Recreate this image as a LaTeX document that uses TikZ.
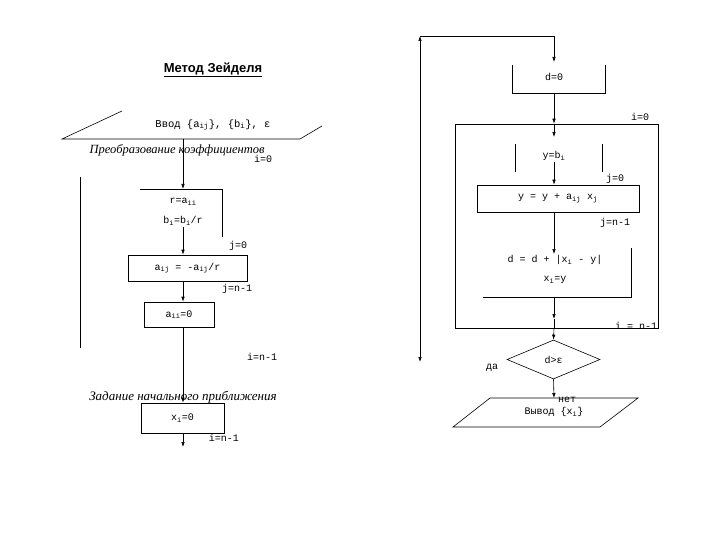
\documentclass[tikz,border=0pt]{standalone}
\usepackage{fontspec}
\setmainfont{Liberation Serif}
\newfontfamily\monofont{Liberation Mono}
\newfontfamily\headfont{Liberation Sans}
\usetikzlibrary{arrows.meta,shapes.geometric}
\newcommand{\ix}[1]{\textsubscript{#1}}

\begin{document}
\begin{tikzpicture}[x=1pt,y=-1pt,>={Latex[length=5pt,width=3.5pt]},line width=0.6pt,
  txt/.style={font=\monofont\fontsize{10}{11}\selectfont,inner sep=1pt},
  cmt/.style={font=\itshape\fontsize{13}{14}\selectfont,inner sep=0pt},
  box/.style={draw,txt,minimum height=26pt}]
\useasboundingbox (0,0) rectangle (720,540);
% title
\node[font=\headfont\bfseries\fontsize{13}{15}\selectfont] (title) at (213,70) {\underline{Метод Зейделя}};

% ---- left part: transformation of coefficients
% input
\draw (122,111) -- (62,139) -- (300,139) -- (322,126);
\node[txt,font=\monofont\fontsize{10.5}{11}\selectfont] (in) at (213,125) {Ввод \{a\ix{ij}\}, \{b\ix{i}\}, ε};
\coordinate (inb) at (183,139);
\node[cmt,font=\itshape\fontsize{12.5}{14}\selectfont] (conv) at (177,150) {Преобразование коэффициентов};
\node[txt] (i0) at (263,159) {i=0};
% outer loop line
\coordinate (iloopa) at (80,177);
\coordinate (iloopb) at (80,348);
\draw (iloopa) -- (iloopb);
% r, b (open box)
\draw (140,189) -- (222,189) -- (222,237);
\node[txt] (r) at (183,202) {r=a\ix{ii}};
\node[txt] (b) at (183,221) {b\ix{i}=b\ix{i}/r};
\draw[->] (inb) -- (inb |- 0,189);
\node[txt] (j0) at (238,246) {j=0};
\node[box,minimum width=119pt] (aij) at (187.5,268) {a\ix{ij} = -a\ix{ij}/r};
\draw[->] (b.south) -- (b |- aij.north);
\node[txt] (jn) at (237,289) {j=n-1};
\node[box,minimum width=70pt,minimum height=25pt] (aii) at (179,314.5) {a\ix{ii}=0};
\draw[->] (aij.south -| b) -- (aii.north -| b);
\node[txt] (in1) at (262,357) {i=n-1};
% initial approximation
\node[box,minimum width=83pt,minimum height=30pt] (x0) at (182.5,418) {x\ix{i}=0};
\draw[->] (aii.south -| b) -- (x0.north -| b);
\node[cmt] (init) at (183,397) {Задание начального приближения};
\coordinate (xend) at (183,447);
\draw[->] (x0.south -| b) -- (xend);
\node[txt] (in2) at (224,438) {i=n-1};

% ---- right part: iterations
\coordinate (yesend) at (420,362);
\coordinate (tl) at (420,36);
\coordinate (tr) at (554,36);
\coordinate (d0t) at (554,62);
\draw[<->] (yesend) -- (tl);
\draw[->] (tl) -- (tr) -- (d0t);
\node[txt] (d0) at (554,77) {d=0};
\draw (512,65) -- (512,93) -- (605,93) -- (605,65);
\coordinate (d0b) at (554,93);
% i loop block
\node[draw,minimum width=203pt,minimum height=204pt,inner sep=0pt] (iblk) at (556.5,226) {};
\node[txt] (i0r) at (640,117) {i=0};
\node[txt] (inr) at (636,326) {i = n-1};
\draw[->] (d0b) -- (d0b |- iblk.north);
\coordinate (ybt) at (554,137);
\draw[->] (d0b |- iblk.north) -- (ybt);
\node[txt] (yb) at (554,156) {y=b\ix{i}};
\draw (515,144) -- (515,172);
\draw (602,144) -- (602,172);
\node[txt] (j0r) at (615,179) {j=0};
\node[box,minimum width=162pt,minimum height=27pt] (ysum) at (558,198.5) {y = y + a\ix{ij} x\ix{j}};
\draw[->] (yb.south) -- (yb |- ysum.north);
\node[txt] (jnr) at (615,223) {j=n-1};
\node[txt] (dd) at (555,260) {d = d + |x\ix{i} - y|};
\draw[->] (yb |- ysum.south) -- (yb |- dd.north);
\node[txt] (xy) at (555,280) {x\ix{i}=y};
\draw (631,248) -- (631,297) -- (483,297);
\coordinate (xyb) at (554,297);
\coordinate (xyarr) at (554,319);
\draw[->] (xyb) -- (xyarr);
\draw (xyarr) -- (xyb |- iblk.south);
% check and output
\node[txt,draw,diamond,inner sep=0pt,minimum width=93pt,minimum height=39pt] (cmp) at (553.5,359.5) {d>ε};
\draw[->] (xyb |- iblk.south) -- (cmp.north);
\node[txt] (yes) at (492,368) {да};
\node[txt] (no) at (567,400) {нет};
\draw (453,427) -- (490,398) -- (638,398) -- (600,427) -- cycle;
\node[txt] (out) at (554,412) {Вывод \{x\ix{i}\}};
\coordinate (outt) at (554,398);
\draw[->] (cmp.south) -- (outt);
\end{tikzpicture}
\end{document}
